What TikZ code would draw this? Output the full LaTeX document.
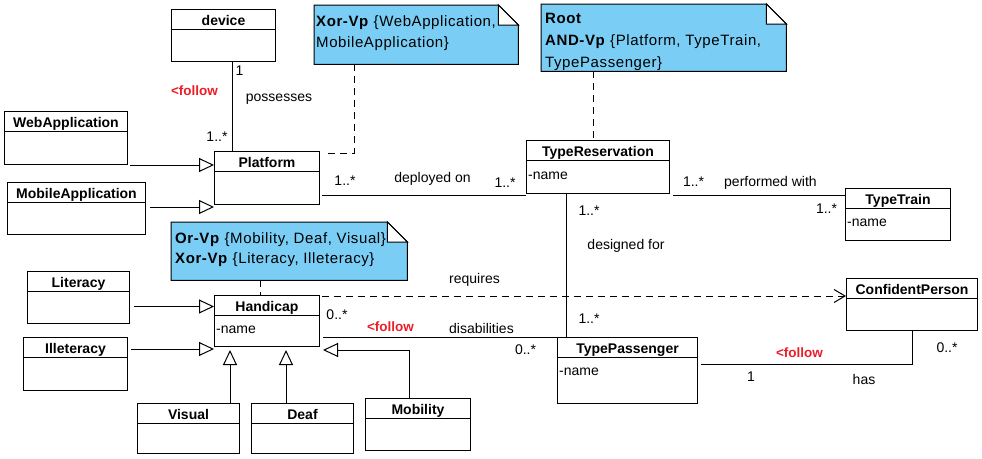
\documentclass[tikz,border=0pt]{standalone}
\usepackage{fontspec}
\setmainfont{Liberation Sans}
\newfontfamily\notefont{Liberation Sans}[LetterSpace=4]
\usetikzlibrary{arrows.meta}

\definecolor{notefill}{RGB}{122,206,245}
\definecolor{followred}{RGB}{235,30,40}

\tikzset{
  cls/.style 2 args={draw, line width=1pt, anchor=north west, inner sep=0pt,
    minimum width=#1pt, minimum height=#2pt,
    path picture={\draw[line width=1pt]
      ([yshift=-20pt]path picture bounding box.north west) --
      ([yshift=-20pt]path picture bounding box.north east);}},
  title/.style={font=\fontsize{14pt}{16pt}\selectfont\bfseries, inner sep=0pt,
    text height=10pt, text depth=0pt},
  attr/.style={anchor=west, inner sep=0pt, text height=10pt, text depth=0pt},
  lbl/.style={inner sep=0pt, text height=10pt, text depth=0pt},
  follow/.style={lbl, text=followred, font=\fontsize{13.5pt}{16pt}\selectfont\bfseries},
  assoc/.style={line width=1pt},
  gen/.style={line width=1pt, -{Triangle[open, fill=white, length=15pt, width=14pt]}},
  dep/.style={line width=1pt, dash pattern=on 7pt off 5pt,
    -{Straight Barb[length=11pt, width=13pt]}},
  notelink/.style={line width=1pt, dash pattern=on 7pt off 5pt},
  notebox/.style 2 args={anchor=north west, inner sep=0pt,
    minimum width=#1pt, minimum height=#2pt},
  notebody/.style={draw, fill=notefill, line width=1pt},
  notefold/.style={draw, fill=white, line width=1pt},
  notetext/.style={anchor=base west, inner sep=0pt,
    font=\notefont\fontsize{15pt}{17pt}\selectfont},
}

\begin{document}
\begin{tikzpicture}[x=1pt, y=-1pt, font=\fontsize{14pt}{16pt}\selectfont]
  \useasboundingbox (0,0) rectangle (982,458);

  % notes
  \node[notebox={204}{59}] (xornote) at (314,5) {};
  \draw[notebody] (xornote.north west) -- ([xshift=-20pt]xornote.north east)
        -- ([yshift=-20pt]xornote.north east) -- (xornote.south east)
        -- (xornote.south west) -- cycle;
  \draw[notefold] ([xshift=-20pt]xornote.north east) |- ([yshift=-20pt]xornote.north east) -- cycle;
  \node[notetext] (xorline1) at (316,26) {\textbf{Xor-Vp} \{WebApplication,};
  \node[notetext] (xorline2) at (316,47) {MobileApplication\}};

  \node[notebox={245}{67}] (rootnote) at (541,4) {};
  \draw[notebody] (rootnote.north west) -- ([xshift=-20pt]rootnote.north east)
        -- ([yshift=-20pt]rootnote.north east) -- (rootnote.south east)
        -- (rootnote.south west) -- cycle;
  \draw[notefold] ([xshift=-20pt]rootnote.north east) |- ([yshift=-20pt]rootnote.north east) -- cycle;
  \node[notetext] (rootline1) at (545,23) {\textbf{Root}};
  \node[notetext] (rootline2) at (545,45) {\textbf{AND-Vp} \{Platform, TypeTrain,};
  \node[notetext] (rootline3) at (545,67) {TypePassenger\}};

  \node[notebox={236}{58}] (orvpnote) at (171,222) {};
  \draw[notebody] (orvpnote.north west) -- ([xshift=-20pt]orvpnote.north east)
        -- ([yshift=-20pt]orvpnote.north east) -- (orvpnote.south east)
        -- (orvpnote.south west) -- cycle;
  \draw[notefold] ([xshift=-20pt]orvpnote.north east) |- ([yshift=-20pt]orvpnote.north east) -- cycle;
  \node[notetext] (orline1) at (175,243) {\textbf{Or-Vp} \{Mobility, Deaf, Visual\}};
  \node[notetext] (orline2) at (175,263) {\textbf{Xor-Vp} \{Literacy, Illeteracy\}};

  % classes
  \node[cls={104}{52}] (device) at (171,9) {};
  \node[title] (devicetitle) at ([yshift=-11pt]device.north) {device};
  \node[cls={123}{53}] (webapp) at (4,111) {};
  \node[title] (webapptitle) at ([yshift=-11pt]webapp.north) {WebApplication};
  \node[cls={138}{52}] (mobileapp) at (7,182) {};
  \node[title] (mobileapptitle) at ([yshift=-11pt]mobileapp.north) {MobileApplication};
  \node[cls={105}{53}] (platform) at (214,151) {};
  \node[title] (platformtitle) at ([yshift=-11pt]platform.north) {Platform};
  \node[cls={143}{53}] (treservation) at (526,140) {};
  \node[title] (treservationtitle) at ([yshift=-11pt]treservation.north) {TypeReservation};
  \node[attr] (treservationattr) at ([xshift=2pt,yshift=-34pt]treservation.north west) {-name};
  \node[cls={105}{52}] (ttrain) at (845,188) {};
  \node[title] (ttraintitle) at ([yshift=-11pt]ttrain.north) {TypeTrain};
  \node[attr] (ttrainattr) at ([xshift=2pt,yshift=-33pt]ttrain.north west) {-name};
  \node[cls={102}{52}] (literacy) at (27,271) {};
  \node[title] (literacytitle) at ([yshift=-11pt]literacy.north) {Literacy};
  \node[cls={104}{53}] (illeteracy) at (23,337) {};
  \node[title] (illeteracytitle) at ([yshift=-11pt]illeteracy.north) {Illeteracy};
  \node[cls={105}{51}] (handicap) at (214,295) {};
  \node[title] (handicaptitle) at ([yshift=-11pt]handicap.north) {Handicap};
  \node[attr] (handicapattr) at ([xshift=2pt,yshift=-33pt]handicap.north west) {-name};
  \node[cls={102}{50}] (visual) at (137,403) {};
  \node[title] (visualtitle) at ([yshift=-11pt]visual.north) {Visual};
  \node[cls={102}{50}] (deaf) at (251,403) {};
  \node[title] (deaftitle) at ([yshift=-11pt]deaf.north) {Deaf};
  \node[cls={105}{52}] (mobility) at (365,398) {};
  \node[title] (mobilitytitle) at ([yshift=-11pt]mobility.north) {Mobility};
  \node[cls={140}{66}] (tpassenger) at (557,337) {};
  \node[title] (tpassengertitle) at ([yshift=-11pt]tpassenger.north) {TypePassenger};
  \node[attr] (tpassengerattr) at ([xshift=2pt,yshift=-33pt]tpassenger.north west) {-name};
  \node[cls={131}{52}] (confident) at (846,278) {};
  \node[title] (confidenttitle) at ([yshift=-11pt]confident.north) {ConfidentPerson};

  % note links
  \draw[notelink] ([xshift=40pt]xornote.south west) |- ([xshift=3pt,yshift=-2pt]platform.north east);
  \draw[notelink] ([xshift=-4.5pt]treservation.north |- rootnote.south) -- ([xshift=-4.5pt]treservation.north);
  \draw[notelink] ([xshift=-7pt]handicap.north |- orvpnote.south) -- ([xshift=-7pt]handicap.north);

  % generalizations
  \draw[gen] ([xshift=2pt]webapp.south east) -- (webapp.south east -| platform.west);
  \draw[gen] ([xshift=4pt,yshift=-2pt]mobileapp.east |- platform.south west) -- ([yshift=-2pt]platform.south west);
  \draw[gen] ([xshift=4pt,yshift=-9pt]literacy.east) -- ([yshift=-9pt]literacy.east -| handicap.west);
  \draw[gen] ([xshift=3pt,yshift=-2pt]illeteracy.east |- handicap.south) -- ([yshift=-2pt]handicap.south west);
  \draw[gen] ([xshift=-10pt]visual.north east) -- ([xshift=-10pt,yshift=-3pt]visual.north east |- handicap.south);
  \draw[gen] ([xshift=35pt]deaf.north west) -- ([xshift=35pt,yshift=-3pt]deaf.north west |- handicap.south);
  \draw[gen] ([xshift=44pt]mobility.north west) |- ([xshift=3pt,yshift=-3pt]handicap.south east);

  % associations
  \draw[assoc] ([xshift=61pt]device.south west) -- ([xshift=61pt]device.south west |- platform.north);
  \draw[assoc] ([xshift=2pt,yshift=-1pt]platform.east |- treservation.south west) -- ([yshift=-1pt]treservation.south west);
  \draw[assoc] ([xshift=3pt,yshift=-1pt]treservation.south east) -- ([yshift=-1pt]treservation.south east -| ttrain.west);
  \draw[assoc] ([xshift=40pt]treservation.south west) -- ([xshift=40pt]treservation.south west |- tpassenger.north);
  \draw[assoc] ([xshift=3pt]handicap.east |- tpassenger.north west) -- (tpassenger.north west);
  \draw[assoc] ([xshift=3pt,yshift=-27pt]tpassenger.north east) -| ([xshift=66pt]confident.south west);
  \draw[dep] ([xshift=2pt,yshift=-1pt]handicap.north east) -- ([yshift=-1pt]handicap.north east -| confident.west);

  % association labels
  \node[lbl] (devmult) at (239.5,70) {1};
  \node[lbl] (possesses) at (279,96) {possesses};
  \node[follow] (devfollow) at (194.5,90) {<follow};
  \node[lbl] (platmult) at (217,136) {1..*};
  \node[lbl] (deplmultl) at (345,180) {1..*};
  \node[lbl] (deployed) at (432.5,177) {deployed on};
  \node[lbl] (deplmultr) at (505,182) {1..*};
  \node[lbl] (perfmultl) at (693.5,181) {1..*};
  \node[lbl] (performed) at (770.5,181) {performed with};
  \node[lbl] (perfmultr) at (826.5,208) {1..*};
  \node[lbl] (desmultt) at (589,210) {1..*};
  \node[lbl] (designed) at (626,244) {designed for};
  \node[lbl] (desmultb) at (589,318) {1..*};
  \node[lbl] (dismultl) at (337,314) {0..*};
  \node[follow] (disfollow) at (390.5,326) {<follow};
  \node[lbl] (disabilities) at (481.5,328) {disabilities};
  \node[lbl] (dismultr) at (525.5,349) {0..*};
  \node[lbl] (requires) at (474.5,278) {requires};
  \node[follow] (hasfollow) at (799.5,352) {<follow};
  \node[lbl] (hasmultl) at (751,376) {1};
  \node[lbl] (has) at (864,379) {has};
  \node[lbl] (hasmultr) at (947,347) {0..*};
\end{tikzpicture}
\end{document}
